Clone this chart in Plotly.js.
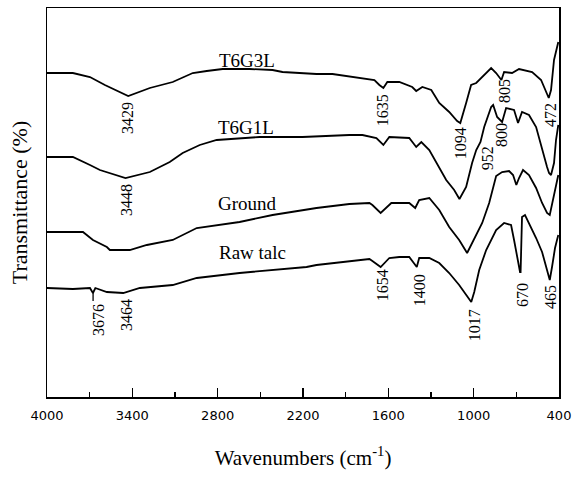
<!DOCTYPE html>
<html>
<head>
<meta charset="utf-8">
<script src="https://cdn.plot.ly/plotly-3.0.1.min.js"></script>
<style>html,body{margin:0;padding:0;background:#fff;}#chart{width:572px;height:482px;}</style>
</head>
<body>
<div id="chart"></div>
<script>
// FTIR spectra (transmittance in arbitrary offset units)
const wnT6G3L = [4000,3818,3698,3593,3429,3277,3116,2975,2877,2765,2575,2414,2344,2105,1993,1782,1698,1663,1635,1607,1523,1432,1404,1361,1298,1242,1172,1116,1094,1053,1018,982,961,912,877,842,821,805,786,730,681,589,526,491,472,456,435,415,405];
const trT6G3L = [324,324,320,312,301,309,315,324,326,328,328,327,325,323,323,319,317,312,309,315,315,310,306,310,307,294,285,276,274,294,312,314,317,324,329,324,320,317,325,324,328,325,317,304,299,307,337,349,355];

const wnT6G1L = [4000,3818,3698,3628,3448,3277,3137,3046,2926,2807,2505,2204,1874,1782,1684,1635,1593,1453,1404,1368,1312,1263,1193,1137,1109,1100,1053,1011,982,952,926,877,863,835,800,772,716,688,660,611,561,519,484,470,456,435,421,405];
const trT6G1L = [240,240,232,227,219,225,235,244,252,257,260,260,262,262,259,252,260,259,250,255,247,234,217,207,200,198,210,234,247,255,270,290,292,280,275,289,287,274,285,282,270,247,230,224,222,234,257,272];

const wnGround = [4000,3747,3677,3579,3558,3418,3298,3116,2947,2646,2414,2175,2105,1874,1733,1712,1654,1579,1453,1411,1383,1312,1242,1172,1102,1046,1011,940,891,870,842,800,751,723,700,681,653,611,561,519,484,465,449,428,405];
const trGround = [165,165,157,150,147,147,152,157,169,175,182,188,189,193,194,192,184,194,194,189,197,199,187,170,157,144,154,174,194,207,221,225,226,222,212,219,227,222,209,194,184,182,192,207,222];

const wnRaw = [4000,3818,3698,3677,3660,3579,3464,3347,3116,2947,2646,2414,2175,2105,1874,1733,1712,1654,1593,1523,1453,1400,1383,1312,1242,1172,1102,1046,1017,996,961,912,842,786,737,716,695,674,670,665,660,639,611,561,519,484,465,449,428,405];
const trRaw = [109,108,109,104,109,105,104,109,112,119,124,127,130,132,136,138,136,130,139,140,140,130,139,139,134,124,112,100,95,105,127,147,167,174,172,157,140,125,125,157,180,182,174,159,145,127,117,130,149,162];

const seriesNames = ['T6G3L','T6G1L','Ground','Raw talc'];
const xTickVals = [4000,3400,2800,2200,1600,1000,400];

const serif = 'Liberation Serif, Times New Roman, serif';
const lineStyle = {color:'#000', width:1.8};
const traces = [
  {x:wnT6G3L, y:trT6G3L, name:seriesNames[0]},
  {x:wnT6G1L, y:trT6G1L, name:seriesNames[1]},
  {x:wnGround, y:trGround, name:seriesNames[2]},
  {x:wnRaw, y:trRaw, name:seriesNames[3]}
].map(t => Object.assign(t, {type:'scatter', mode:'lines', line:lineStyle, hoverinfo:'skip'}));

const annotations = [];
function nameLabel(text, x, y){
  annotations.push({text:text, x:x, y:y, xref:'x', yref:'y', showarrow:false,
    font:{family:serif, size:19, color:'#000'}});
}
function peakLabel(text, x, y){
  annotations.push({text:text, x:x, y:y, xref:'x', yref:'y', showarrow:false, textangle:-90,
    font:{family:serif, size:16, color:'#000'}});
}
nameLabel(seriesNames[0], 2596, 337);
nameLabel(seriesNames[1], 2600, 270);
nameLabel(seriesNames[2], 2590, 194);
nameLabel(seriesNames[3], 2555, 145);
peakLabel('3429', 3437, 279);
peakLabel('3448', 3445, 197);
peakLabel('3676', 3642, 77);
peakLabel('3464', 3445, 82);
peakLabel('1635', 1642, 287);
peakLabel('1094', 1094, 254);
peakLabel('952', 905, 239);
peakLabel('800', 807, 262);
peakLabel('805', 786, 306);
peakLabel('472', 463, 282);
peakLabel('1654', 1642, 112);
peakLabel('1400', 1382, 107);
peakLabel('1017', 996, 72);
peakLabel('670', 660, 102);
peakLabel('465', 463, 100);

const layout = {
  width:572, height:482,
  margin:{l:47, r:13, t:8, b:85},
  paper_bgcolor:'#fff', plot_bgcolor:'#fff',
  showlegend:false,
  xaxis:{
    range:[4000,400], tickmode:'array', tickvals:xTickVals,
    ticks:'inside', ticklen:9, tickwidth:1.5, tickcolor:'#000',
    minor:{dtick:300, tick0:400, ticks:'inside', ticklen:5, tickwidth:1.5, tickcolor:'#000'},
    showgrid:false, zeroline:false,
    showline:true, linecolor:'#000', linewidth:1.5, mirror:true,
    tickfont:{family:'DejaVu Sans, sans-serif', size:13, color:'#000'},
    ticklabelstandoff:6,
    title:{text:'Wavenumbers (cm<sup>-1</sup>)', font:{family:serif, size:21, color:'#000'}, standoff:28}
  },
  yaxis:{
    range:[0,389], showticklabels:false, ticks:'', showgrid:false, zeroline:false,
    showline:true, linecolor:'#000', linewidth:1.5, mirror:true,
    title:{text:'Transmittance (%)', font:{family:serif, size:22, color:'#000'}, standoff:12}
  },
  shapes:[
    {type:'line', xref:'x', yref:'y', x0:3676, x1:3676, y0:106, y1:96, line:{color:'#000', width:1.3}}
  ],
  annotations:annotations
};

Plotly.newPlot('chart', traces, layout, {displayModeBar:false, staticPlot:true});
</script>
</body>
</html>
